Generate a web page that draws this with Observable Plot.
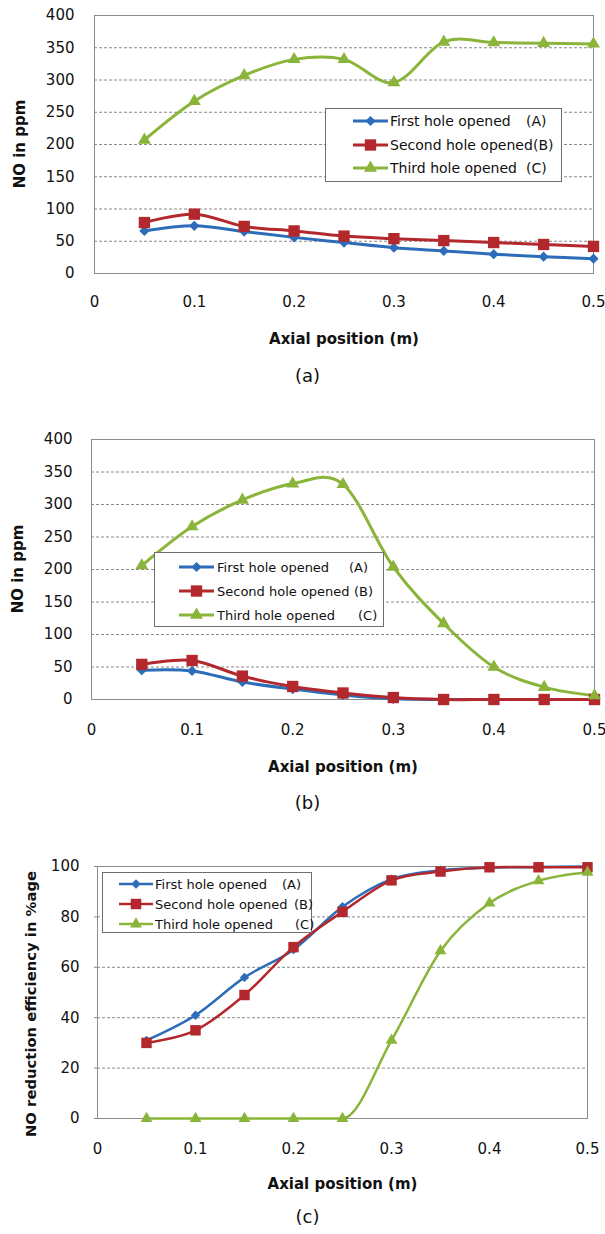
<!DOCTYPE html>
<html>
<head>
<meta charset="utf-8">
<script src="https://cdn.jsdelivr.net/npm/d3@7"></script>
<script src="https://cdn.jsdelivr.net/npm/@observablehq/plot@0.6"></script>
<style>
  body { margin: 0; background: #fff; }
  #fig { position: relative; width: 605px; height: 1234px; font-family: "DejaVu Sans", sans-serif; color: #111; }
  .panel { position: absolute; left: 0; }
  .legend { position: absolute; background: #fff; border: 1px solid #6e6e6e; box-sizing: border-box; }
  .entry { position: absolute; left: 0; white-space: pre; line-height: 1; }
  .entry svg { position: absolute; overflow: visible; }
  .entry span { position: absolute; transform: translateY(-50%); }
</style>
</head>
<body>
<div id="fig"></div>
<script>
// Axial positions shared by all three panels (m)
const position = [0.05, 0.10, 0.15, 0.20, 0.25, 0.30, 0.35, 0.40, 0.45, 0.50];

// Series names and tags for the three hole configurations
const holeNames = ["First hole opened", "Second hole opened", "Third hole opened"];
const holeTags = ["(A)", "(B)", "(C)"];

// (a) NO concentration, ppm
const noA_first  = [66, 74, 65, 56, 48, 40, 35, 30, 26, 23];
const noA_second = [79, 92, 73, 66, 58, 54, 51, 48, 45, 42];
const noA_third  = [207, 267, 307, 332, 332, 296, 359, 358, 357, 356];

// (b) NO concentration, ppm
const noB_first  = [45, 44, 27, 16, 7, 1, 0, 0, 0, 0];
const noB_second = [54, 60, 36, 20, 10, 3, 0, 0, 0, 0];
const noB_third  = [206, 266, 307, 332, 331, 204, 117, 50, 19, 6];

// (c) NO reduction efficiency, %
const effC_first  = [31, 41, 56, 67, 84, 95, 98.5, 99.5, 99.8, 100];
const effC_second = [30, 35, 49, 68, 82, 94.5, 98, 99.7, 99.7, 99.7];
const effC_third  = [0, 0, 0, 0, 0, 31, 66.5, 85.5, 94.3, 97.7];

// Tick values and labels
const xTicks = [0, 0.1, 0.2, 0.3, 0.4, 0.5];
const xTickLabels = ["0", "0.1", "0.2", "0.3", "0.4", "0.5"];
const yTicksNO = [0, 50, 100, 150, 200, 250, 300, 350, 400];
const gridNO = [50, 100, 150, 200, 250, 300, 350];
const yTicksEff = [0, 20, 40, 60, 80, 100];
const gridEff = [20, 40, 60, 80];

// Series appearance
const holeColors = ["#2c6cb8", "#b3282d", "#8ab43a"];
const holeSymbols = ["diamond2", "square", "triangle"];
const holeRadius = [4.6, 6.4, 4.8];

const fig = document.getElementById("fig");
const toRows = values => position.map((x, i) => ({x, y: values[i]}));

function drawPanel(cfg) {
  const marks = [
    Plot.ruleY(cfg.grid, {stroke: "#8a8a8a", strokeWidth: 1, strokeDasharray: "3,2"}),
    Plot.frame({stroke: "#8c8c8c", strokeWidth: 1}),
    Plot.axisX(xTicks, {
      anchor: "bottom", label: null, tickSize: 0, tickPadding: cfg.xPad,
      tickFormat: d => xTickLabels[xTicks.indexOf(d)], fontSize: 15, fill: "#111"
    }),
    Plot.axisY(cfg.yTicks, {
      anchor: "left", label: null, tickSize: cfg.yTickSize, tickPadding: cfg.yPad,
      stroke: "#8c8c8c", fontSize: 15, fill: "#111"
    })
  ];
  cfg.series.forEach((values, k) => {
    marks.push(Plot.line(toRows(values), {
      x: "x", y: "y", stroke: holeColors[k], strokeWidth: cfg.lineWidth,
      curve: (cfg.curves && cfg.curves[k]) || "cardinal"
    }));
  });
  cfg.series.forEach((values, k) => {
    marks.push(Plot.dot(toRows(values), {
      x: "x", y: "y", symbol: holeSymbols[k], r: holeRadius[k] * cfg.markerScale,
      fill: holeColors[k], stroke: null
    }));
  });
  marks.push(
    Plot.text(["Axial position (m)"], {
      text: d => d, frameAnchor: "bottom", dy: cfg.titleDy, textAnchor: "middle",
      fontWeight: "bold", fontSize: 15, fill: "#111"
    }),
    Plot.text([cfg.caption], {
      text: d => d, frameAnchor: "bottom-left", dx: 307 - cfg.marginLeft, dy: cfg.captionDy,
      textAnchor: "middle", fontSize: 18, fill: "#111"
    })
  );

  const svg = Plot.plot({
    width: 605,
    height: cfg.height,
    marginTop: cfg.marginTop,
    marginBottom: cfg.marginBottom,
    marginLeft: cfg.marginLeft,
    marginRight: cfg.marginRight,
    x: {domain: [0, 0.5], axis: null},
    y: {domain: cfg.yDomain, axis: null},
    style: {fontFamily: "DejaVu Sans, sans-serif", background: "transparent", overflow: "visible"},
    marks
  });

  // Rotated y-axis title, centred on the plot frame
  const cy = cfg.marginTop + (cfg.height - cfg.marginTop - cfg.marginBottom) / 2 + cfg.yLabelDy;
  d3.select(svg).append("text")
    .attr("transform", `translate(${cfg.yLabelX},${cy}) rotate(-90)`)
    .attr("text-anchor", "middle")
    .attr("dominant-baseline", "central")
    .attr("font-weight", "bold")
    .attr("font-size", cfg.yLabelSize)
    .attr("fill", "#111")
    .text(cfg.yLabel);

  svg.classList.add("panel");
  svg.style.top = cfg.top + "px";
  fig.appendChild(svg);

  // Legend box drawn over the plot area
  const L = cfg.legend;
  const box = document.createElement("div");
  box.className = "legend";
  Object.assign(box.style, {left: L.left + "px", top: L.top + "px", width: L.width + "px", height: L.height + "px", fontSize: L.fontSize + "px"});
  holeNames.forEach((name, k) => {
    const entry = document.createElement("div");
    entry.className = "entry";
    entry.style.top = L.rows[k] + "px";
    const sw = d3.create("svg").attr("width", L.x1 - L.x0).attr("height", 1)
      .style("left", L.x0 + "px").style("top", "0px");
    sw.append("line").attr("x1", 0).attr("x2", L.x1 - L.x0).attr("y1", 0).attr("y2", 0)
      .attr("stroke", holeColors[k]).attr("stroke-width", cfg.lineWidth);
    const r = holeRadius[k] * cfg.markerScale;
    const symType = {diamond2: d3.symbolDiamond2, square: d3.symbolSquare, triangle: d3.symbolTriangle}[holeSymbols[k]];
    sw.append("path").attr("transform", `translate(${(L.x1 - L.x0) / 2},0)`)
      .attr("d", d3.symbol(symType, r * r * Math.PI)()).attr("fill", holeColors[k]);
    entry.appendChild(sw.node());
    const t = document.createElement("span");
    t.textContent = name;
    t.style.left = L.textX + "px";
    entry.appendChild(t);
    const tag = document.createElement("span");
    tag.textContent = holeTags[k];
    tag.style.left = L.tagX[k] + "px";
    entry.appendChild(tag);
    box.appendChild(entry);
  });
  fig.appendChild(box);
}

drawPanel({
  top: 0, height: 395, marginTop: 15, marginBottom: 122, marginLeft: 94, marginRight: 12,
  yDomain: [0, 400], yTicks: yTicksNO, grid: gridNO, yTickSize: 0, yPad: 20, xPad: 23,
  series: [noA_first, noA_second, noA_third], lineWidth: 3, markerScale: 1,
  yLabel: "NO in ppm", yLabelX: 20, yLabelDy: 0, yLabelSize: 15,
  titleDy: 70, caption: "(a)", captionDy: 108,
  legend: {left: 325, top: 108, width: 237, height: 74, fontSize: 14,
           rows: [12, 35.5, 59], x0: 27, x1: 62, textX: 64, tagX: [200, 207, 200]}
});

drawPanel({
  top: 420, height: 400, marginTop: 19, marginBottom: 121, marginLeft: 91, marginRight: 11,
  yDomain: [0, 400], yTicks: yTicksNO, grid: gridNO, yTickSize: 0, yPad: 19, xPad: 25,
  series: [noB_first, noB_second, noB_third], lineWidth: 3, markerScale: 1,
  yLabel: "NO in ppm", yLabelX: 18, yLabelDy: 0, yLabelSize: 15,
  titleDy: 72, caption: "(b)", captionDy: 109,
  legend: {left: 154, top: 552, width: 230, height: 75, fontSize: 13,
           rows: [13.5, 38, 62], x0: 24, x1: 59, textX: 62, tagX: [194, 199, 203]}
});

drawPanel({
  top: 840, height: 394, marginTop: 26, marginBottom: 116, marginLeft: 97, marginRight: 18,
  yDomain: [0, 100], yTicks: yTicksEff, grid: gridEff, yTickSize: 3, yPad: 15, xPad: 25,
  series: [effC_first, effC_second, effC_third], lineWidth: 2.5, markerScale: 0.92,
  curves: ["cardinal", "cardinal", "monotone-x"],
  yLabel: "NO reduction efficiency in %age", yLabelX: 30, yLabelDy: 12, yLabelSize: 14.8,
  titleDy: 70, caption: "(c)", captionDy: 104,
  legend: {left: 102, top: 872, width: 210, height: 61, fontSize: 13,
           rows: [10.5, 30.5, 50.5], x0: 16, x1: 50, textX: 52, tagX: [179, 191, 192]}
});
</script>
</body>
</html>
